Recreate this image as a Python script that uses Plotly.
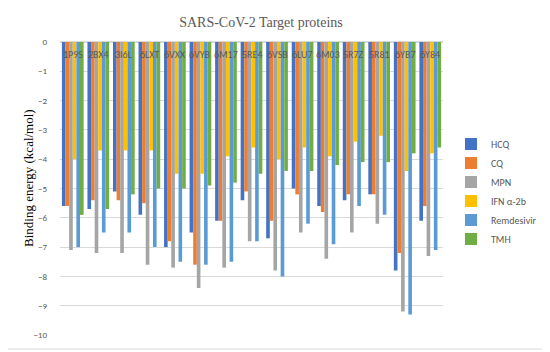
import plotly.graph_objects as go

categories = ["1P9S", "2BX4", "3I6L", "6LXT", "6VXX", "6VYB", "6M17", "5RE4",
              "6VSB", "6LU7", "6M03", "5R7Z", "5R81", "6YB7", "6Y84"]
hcq = [-5.6, -5.7, -5.1, -5.9, -7.0, -6.5, -6.1, -5.4, -6.7, -5.0, -5.6, -5.4, -5.2, -7.8, -6.1]
cq = [-5.6, -5.4, -5.4, -5.5, -6.8, -7.6, -6.1, -5.1, -6.1, -5.2, -5.8, -5.2, -5.2, -7.2, -5.6]
mpn = [-7.1, -7.2, -7.2, -7.6, -7.7, -8.4, -7.7, -6.8, -7.8, -6.5, -7.4, -6.5, -6.2, -9.2, -7.3]
ifn = [-4.0, -3.7, -3.7, -3.7, -4.5, -4.5, -3.9, -3.6, -4.0, -3.6, -3.9, -3.4, -3.2, -4.4, -3.8]
remdesivir = [-7.0, -6.5, -6.5, -7.0, -7.5, -7.6, -7.5, -6.8, -8.0, -6.2, -6.9, -5.6, -5.9, -9.3, -7.1]
tmh = [-5.9, -5.7, -5.2, -5.0, -5.0, -4.9, -4.8, -4.5, -4.4, -4.4, -4.2, -4.1, -4.1, -3.8, -3.6]

series = [
    ("HCQ", hcq, "#4472C4"),
    ("CQ", cq, "#ED7D31"),
    ("MPN", mpn, "#A5A5A5"),
    ("IFN α-2b", ifn, "#FFC000"),
    ("Remdesivir", remdesivir, "#5B9BD5"),
    ("TMH", tmh, "#70AD47"),
]

fig = go.Figure()
for name, vals, color in series:
    fig.add_trace(go.Bar(name=name, x=categories, y=vals, marker=dict(color=color, line=dict(width=0))))

OFF = 8  # page body margin offset
W, H = 550 - OFF, 352 - OFF
# plot area in screen coords of the reference
L, R, T, B = 60, 443, 42, 335
pw, ph = R - L, B - T

def px(x):
    return (x - L) / pw

def py(y):
    return (B - y) / ph

sans = "Calibri, Carlito, Liberation Sans, Arial"
serif = "Palatino Linotype, Book Antiqua, Liberation Serif, serif"

annotations = [dict(x=c, y=-0.44, xref="x", yref="y", text=c, showarrow=False,
                    font=dict(family=sans, size=10, color="#595959"), yanchor="middle")
               for c in categories]
annotations.append(dict(x=px(28), y=py(178), xref="paper", yref="paper", text="Binding energy (kcal/mol)",
                        textangle=-90, showarrow=False, xanchor="center", yanchor="middle",
                        font=dict(family=serif, size=13, color="#000000")))

fig.update_layout(
    width=W, height=H,
    margin=dict(l=L - OFF, r=(550 - R), t=T - OFF, b=352 - B, autoexpand=False),
    paper_bgcolor="white", plot_bgcolor="white",
    barmode="group", bargap=0.15, bargroupgap=0,
    title=dict(text="SARS-CoV-2 Target proteins", x=(261 - OFF) / W, xref="container", xanchor="center",
               y=1 - (22 - OFF) / H, yref="container", yanchor="middle",
               font=dict(family=serif, size=14, color="#595959")),
    legend=dict(x=px(451), y=py(129.5), xanchor="left", yanchor="top",
                font=dict(family=sans, size=10, color="#595959"),
                bgcolor="rgba(0,0,0,0)", tracegroupgap=0),
    xaxis=dict(showticklabels=False, showgrid=False, showline=False, ticks="", zeroline=False),
    yaxis=dict(range=[-10, 0], dtick=1, showgrid=True, gridcolor="#D9D9D9", gridwidth=1,
               zeroline=True, zerolinecolor="#D9D9D9", showline=False, ticks="",
               ticklabelstandoff=12,
               tickfont=dict(family=sans, size=9, color="#595959")),
    annotations=annotations,
    shapes=[dict(type="rect", xref="paper", yref="paper", x0=px(3), x1=px(545), y0=py(349), y1=py(3),
                 line=dict(color="#D9D9D9", width=1), fillcolor="rgba(0,0,0,0)", layer="below")],
)

fig.write_html("out.html")
